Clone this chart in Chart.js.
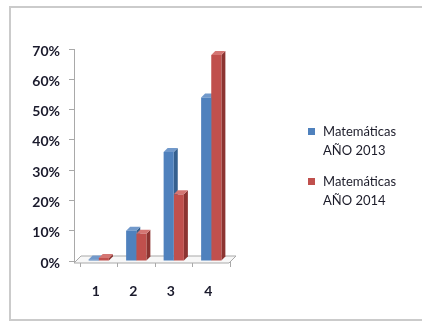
<!DOCTYPE html>
<html>
<head>
<meta charset="utf-8">
<script src="https://cdn.jsdelivr.net/npm/chart.js@4/dist/chart.umd.min.js"></script>
<style>
  html, body { margin: 0; padding: 0; background: #fff; }
  body { width: 422px; height: 322px; position: relative; overflow: hidden; }
  #frame {
    position: absolute; left: 9px; top: 6px; width: 440px; height: 315px;
    box-sizing: border-box; border: 2px solid #cbcbcb;
  }
  #chart { position: absolute; left: 0; top: 0; }
  #legend {
    position: absolute; left: 308px; top: 122px;
    font-family: Lato, "Liberation Sans", sans-serif; font-size: 13px; color: #1c1c2a;
  }
  .item { position: relative; padding-left: 15px; line-height: 19px; margin-bottom: 12px; }
  .swatch { position: absolute; left: 0; top: 6px; width: 7px; height: 7px; }
</style>
</head>
<body>
<div id="frame"></div>
<canvas id="chart" width="422" height="322"></canvas>
<div id="legend"></div>
<script>
// Categories on the horizontal axis
const categories = ['1', '2', '3', '4'];
// Share of students per category (%)
const serie2013 = [0.5, 10, 36, 54];
const serie2014 = [1, 9, 22, 68];
// Series names (two lines each)
const label2013 = ['Matemáticas', 'AÑO 2013'];
const label2014 = ['Matemáticas', 'AÑO 2014'];
// Value axis
const yMax = 70;
const yStep = 10;

const colors = {
  blue:  { front: '#4F81BD', side: '#35608F', top: '#7199CB' },
  red:   { front: '#C0504D', side: '#8C3431', top: '#D47673' }
};

const DX = 4, DY = 4;   // bar depth
const FDX = 7, FDY = 7; // floor depth
const AXIS_SHIFT = 6;   // value axis sits at the front-left corner of the floor

// Move the value axis to the front-left edge of the 3D floor
const axisShift = {
  id: 'axisShift',
  afterLayout(chart) {
    const y = chart.scales.y;
    y.left -= AXIS_SHIFT;
    y.right -= AXIS_SHIFT;
  }
};

// Floor and depth faces of the columns
const depth = {
  id: 'depth',
  beforeDatasetsDraw(chart) {
    const { ctx, chartArea } = chart;
    const y0 = chart.scales.y.getPixelForValue(0);
    const fl = chart.scales.y.right;
    const fr = chartArea.right - 1;
    const fy = y0 + 2;
    ctx.save();
    ctx.beginPath();
    ctx.moveTo(fl, fy);
    ctx.lineTo(fr, fy);
    ctx.lineTo(fr + FDX, fy - FDY);
    ctx.lineTo(fl + FDX, fy - FDY);
    ctx.closePath();
    ctx.fillStyle = '#f7f7f7';
    ctx.fill();
    ctx.strokeStyle = '#a9a9a9';
    ctx.lineWidth = 1;
    ctx.stroke();

    chart.data.datasets.forEach((ds, i) => {
      const c = ds._faces;
      chart.getDatasetMeta(i).data.forEach(bar => {
        const { x, y, base, width } = bar.getProps(['x', 'y', 'base', 'width'], true);
        const l = x - width / 2, r = x + width / 2;
        // side
        ctx.fillStyle = c.side;
        ctx.beginPath();
        ctx.moveTo(r, y);
        ctx.lineTo(r + DX, y - DY);
        ctx.lineTo(r + DX, base - DY);
        ctx.lineTo(r, base);
        ctx.closePath();
        ctx.fill();
        // top
        ctx.fillStyle = c.top;
        ctx.beginPath();
        ctx.moveTo(l, y);
        ctx.lineTo(l + DX, y - DY);
        ctx.lineTo(r + DX, y - DY);
        ctx.lineTo(r, y);
        ctx.closePath();
        ctx.fill();
      });
    });
    ctx.restore();
  }
};

const tickFont = { family: 'Lato, "Liberation Sans", sans-serif', size: 14, weight: 'bold' };

const chart = new Chart(document.getElementById('chart'), {
  type: 'bar',
  data: {
    labels: categories,
    datasets: [
      { label: label2013, data: serie2013, backgroundColor: colors.blue.front, _faces: colors.blue },
      { label: label2014, data: serie2014, backgroundColor: colors.red.front, _faces: colors.red }
    ]
  },
  options: {
    responsive: false,
    animation: false,
    events: [],
    layout: { padding: { left: 30, top: 49, right: 192, bottom: 21 } },
    datasets: { bar: { barPercentage: 1, categoryPercentage: 0.54 } },
    plugins: { legend: { display: false }, tooltip: { enabled: false } },
    scales: {
      x: {
        afterFit: s => { s.height = 40; },
        grid: { display: true, drawOnChartArea: false, tickLength: 6, color: '#a9a9a9', offset: true },
        border: { display: false },
        ticks: { font: tickFont, color: '#1a1a2c', padding: 16, labelOffset: -3 }
      },
      y: {
        min: 0, max: yMax,
        afterFit: s => { s.width = 50; },
        grid: { display: true, drawOnChartArea: false, tickLength: 5, color: '#a9a9a9' },
        border: { display: true, color: '#a9a9a9' },
        ticks: {
          stepSize: yStep, font: tickFont, color: '#1a1a2c', padding: 9, labelOffset: 2,
          callback: v => v + '%'
        }
      }
    }
  },
  plugins: [axisShift, depth]
});

// Legend built from the datasets
const legend = document.getElementById('legend');
chart.data.datasets.forEach(ds => {
  const item = document.createElement('div');
  item.className = 'item';
  const sw = document.createElement('span');
  sw.className = 'swatch';
  sw.style.background = ds.backgroundColor;
  item.appendChild(sw);
  ds.label.forEach((line, i) => {
    if (i) item.appendChild(document.createElement('br'));
    item.appendChild(document.createTextNode(line));
  });
  legend.appendChild(item);
});
</script>
</body>
</html>
